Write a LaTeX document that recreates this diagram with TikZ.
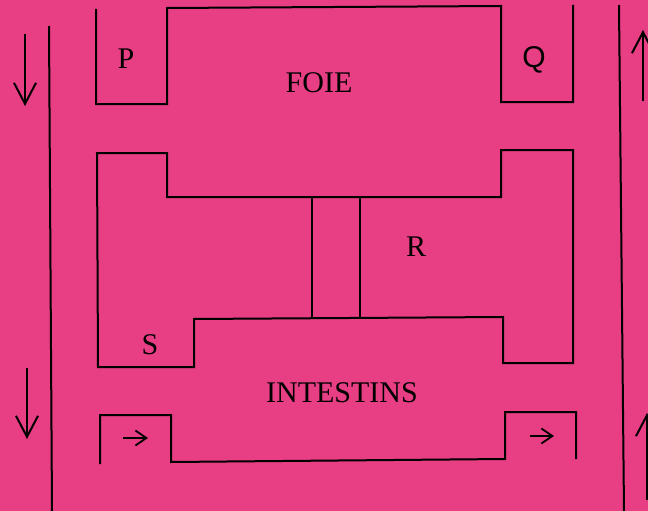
\documentclass[tikz,border=0pt]{standalone}
\usepackage{fontspec}
\setmainfont{Liberation Serif}
\newfontfamily\qfont{Liberation Sans}
\usetikzlibrary{arrows.meta}
\definecolor{paper}{RGB}{232,62,132}
\tikzset{
  wall/.style={line width=2pt, line join=miter, line cap=rect},
  lab/.style={font=\fontsize{30}{30}\selectfont, inner sep=0pt},
  flow/.style={line width=2pt, -{Straight Barb[length=21pt,width=22pt,line width=2pt]}},
  small flow/.style={line width=1.8pt, -{Straight Barb[length=11pt,width=15pt,line width=1.8pt]}}
}
\begin{document}
\begin{tikzpicture}[x=1pt,y=-1pt]
\useasboundingbox (0,0) rectangle (648,511);
\fill[paper] (0,0) rectangle (648,511);
\begin{scope}
\clip (0,0) rectangle (648,511);
% side vessels
\draw[wall] (49,27) -- (52,511);
\draw[wall] (619,6) -- (624,511);
% flow arrows
\coordinate (la1s) at (25,34); \coordinate (la1e) at (25,106);
\coordinate (la2s) at (27,368); \coordinate (la2e) at (27,439);
\coordinate (ra1s) at (643,101); \coordinate (ra1e) at (643,30);
\coordinate (ra2s) at (647,500); \coordinate (ra2e) at (647,413);
\draw[flow] (la1s) -- (la1e);
\draw[flow] (la2s) -- (la2e);
\draw[flow] (ra1s) -- (ra1e);
\draw[flow] (ra2s) -- (ra2e);
% liver (top)
\draw[wall] (96,10) -- (96,104) -- (167,104) -- (167,8) -- (501,6) -- (501,102) -- (573,102) -- (573,6);
% middle block
\draw[wall] (97,153) -- (167,153) -- (167,197) -- (501,197) -- (501,150) -- (573,150) -- (573,363) -- (503,363) -- (503,317) -- (194,319) -- (194,367) -- (98,367) -- cycle;
\draw[wall] (312,197) -- (312,318);
\draw[wall] (360,197) -- (360,318);
% intestine (bottom)
\draw[wall] (100,463) -- (100,415) -- (171,415) -- (171,462) -- (505,459) -- (505,412) -- (576,412) -- (576,458);
% small arrows
\coordinate (sa1s) at (123,438); \coordinate (sa1e) at (148,438);
\coordinate (sa2s) at (530,436); \coordinate (sa2e) at (554,436);
\draw[small flow] (sa1s) -- (sa1e);
\draw[small flow] (sa2s) -- (sa2e);
\end{scope}
% labels
\node[lab] (p) at (126,59) {P};
\node[lab] (q) at (534,60) {\qfont Q};
\node[lab] (foie) at (319,83) {FOIE};
\node[lab] (r) at (416,247) {R};
\node[lab] (s) at (150,345) {S};
\node[lab] (int) at (342,393) {INTESTINS};
\end{tikzpicture}
\end{document}
